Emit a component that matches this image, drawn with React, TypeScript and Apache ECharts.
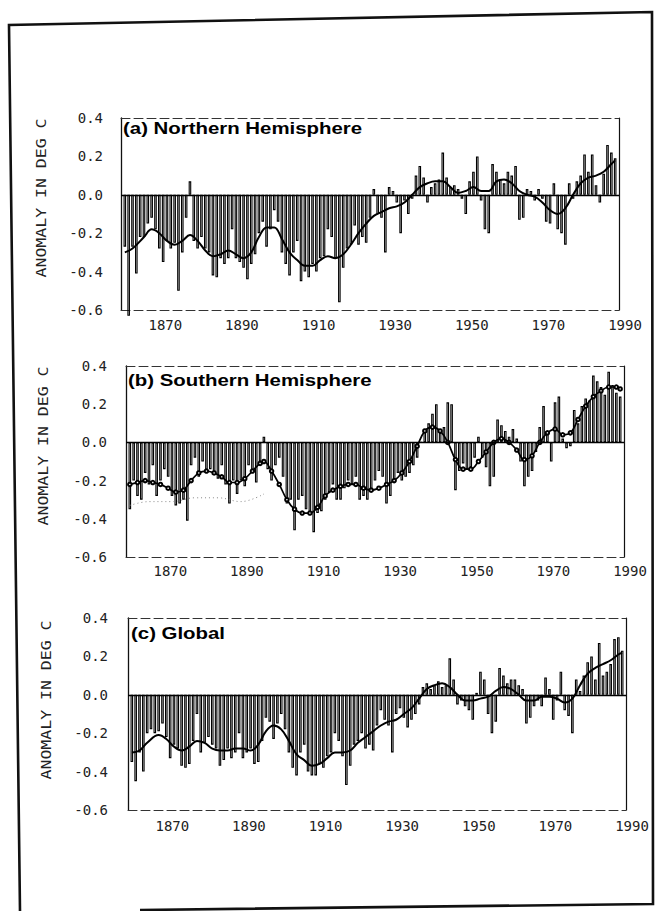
import React, { useEffect, useRef } from "react";
import * as echarts from "echarts";

const FIRST_YEAR = 1861;
const X_MIN = 1860;
const X_MAX = 1990;
const X_TICK_LABELS = [1870, 1890, 1910, 1930, 1950, 1970, 1990];
const Y_MIN = -0.6;
const Y_MAX = 0.4;
const Y_STEP = 0.2;
const PANEL_TITLES = ["(a) Northern Hemisphere", "(b) Southern Hemisphere", "(c) Global"];
const Y_AXIS_TITLE = "ANOMALY IN DEG C";

// annual anomalies 1861..1989
const NH_ANOMALY = [
  -0.27, -0.63, -0.27, -0.41, -0.22, -0.22, -0.15, -0.12, -0.18, -0.28,
  -0.35, -0.24, -0.28, -0.25, -0.50, -0.30, -0.12, 0.07, -0.24, -0.28,
  -0.22, -0.28, -0.30, -0.42, -0.43, -0.33, -0.36, -0.33, -0.18, -0.33,
  -0.35, -0.38, -0.44, -0.36, -0.31, -0.20, -0.14, -0.27, -0.18, -0.08,
  -0.14, -0.30, -0.36, -0.42, -0.30, -0.24, -0.45, -0.40, -0.43, -0.36,
  -0.40, -0.33, -0.32, -0.18, -0.22, -0.33, -0.56, -0.38, -0.28, -0.26,
  -0.16, -0.26, -0.22, -0.25, -0.12, 0.03, -0.10, -0.12, -0.30, 0.04,
  0.02, -0.04, -0.20, -0.03, -0.10, -0.02, 0.10, 0.15, 0.09, -0.04,
  0.04, 0.06, 0.08, 0.22, 0.09, 0.04, 0.05, 0.03, -0.02, -0.10,
  0.07, 0.12, 0.20, -0.03, -0.18, -0.20, 0.16, 0.12, 0.08, 0.06,
  0.12, 0.10, 0.15, -0.13, -0.12, 0.03, 0.02, -0.03, 0.03, -0.02,
  -0.14, -0.15, 0.06, -0.18, -0.20, -0.26, 0.06, -0.02, 0.07, 0.10,
  0.21, 0.12, 0.21, 0.05, -0.04, 0.11, 0.26, 0.22, 0.19,
];

const SH_ANOMALY = [
  -0.35, -0.20, -0.28, -0.30, -0.16, -0.22, -0.12, -0.28, -0.20, -0.14,
  -0.18, -0.28, -0.33, -0.32, -0.30, -0.41, -0.12, -0.08, -0.18, -0.10,
  -0.15, -0.14, -0.16, -0.19, -0.12, -0.22, -0.32, -0.20, -0.27, -0.20,
  -0.23, -0.12, -0.15, -0.21, -0.10, 0.03, -0.14, -0.20, -0.12, -0.08,
  -0.18, -0.32, -0.30, -0.46, -0.30, -0.28, -0.35, -0.38, -0.47, -0.37,
  -0.36, -0.30, -0.26, -0.22, -0.30, -0.30, -0.24, -0.20, -0.22, -0.18,
  -0.30, -0.28, -0.30, -0.26, -0.20, -0.15, -0.18, -0.32, -0.28, -0.20,
  -0.16, -0.20, -0.18, -0.16, -0.12, -0.08, 0.00, 0.06, 0.10, 0.15,
  0.20, 0.05, 0.08, 0.21, 0.20, -0.25, -0.15, -0.11, -0.14, -0.13,
  -0.08, 0.03, -0.08, -0.13, -0.23, -0.18, 0.12, 0.09, 0.06, 0.03,
  0.07, 0.02, -0.10, -0.23, -0.18, -0.15, -0.05, 0.08, 0.19, 0.05,
  -0.10, 0.21, 0.24, 0.02, -0.03, -0.02, 0.17, 0.10, 0.19, 0.23,
  0.22, 0.35, 0.32, 0.29, 0.25, 0.37, 0.30, 0.26, 0.24,
];

const GLOBAL_ANOMALY = [
  -0.35, -0.45, -0.30, -0.40, -0.20, -0.18, -0.20, -0.19, -0.15, -0.22,
  -0.33, -0.26, -0.28, -0.37, -0.38, -0.36, -0.24, -0.10, -0.30, -0.25,
  -0.22, -0.26, -0.28, -0.37, -0.34, -0.28, -0.33, -0.30, -0.20, -0.33,
  -0.30, -0.28, -0.36, -0.35, -0.24, -0.12, -0.14, -0.23, -0.15, -0.10,
  -0.18, -0.30, -0.38, -0.42, -0.30, -0.26, -0.40, -0.42, -0.42, -0.36,
  -0.38, -0.32, -0.30, -0.20, -0.24, -0.32, -0.47, -0.37, -0.26, -0.24,
  -0.20, -0.28, -0.26, -0.29, -0.16, -0.08, -0.13, -0.16, -0.30, -0.10,
  -0.07, -0.12, -0.17, -0.13, -0.10, -0.05, 0.04, 0.06, 0.03, 0.05,
  0.07, 0.04, 0.05, 0.19, 0.08, -0.05, -0.03, -0.06, -0.08, -0.13,
  0.01, 0.12, 0.08, -0.10, -0.20, -0.14, 0.14, 0.10, 0.06, 0.08,
  0.08, 0.05, 0.03, -0.15, -0.12, -0.06, -0.03, -0.06, 0.09, 0.03,
  -0.13, -0.03, 0.12, -0.08, -0.11, -0.20, 0.08, 0.02, 0.10, 0.17,
  0.20, 0.08, 0.27, 0.10, 0.12, 0.16, 0.29, 0.30, 0.23,
];

// smoothed curves [year, value]
const NH_SMOOTH = [
  [1861, -0.30], [1863, -0.28], [1866, -0.22], [1868, -0.18], [1870, -0.20], [1872, -0.24],
  [1874, -0.26], [1876, -0.24], [1878, -0.21], [1880, -0.24], [1882, -0.29], [1884, -0.32],
  [1886, -0.31], [1888, -0.29], [1890, -0.31], [1892, -0.33], [1894, -0.30], [1896, -0.22],
  [1898, -0.17], [1900, -0.17], [1902, -0.23], [1904, -0.30], [1906, -0.34], [1908, -0.37],
  [1910, -0.37], [1912, -0.34], [1914, -0.32], [1916, -0.33], [1918, -0.31], [1920, -0.26],
  [1922, -0.20], [1924, -0.15], [1926, -0.11], [1928, -0.09], [1930, -0.07], [1932, -0.06],
  [1934, -0.04], [1936, 0.00], [1938, 0.04], [1940, 0.06], [1942, 0.07], [1944, 0.07],
  [1946, 0.04], [1948, 0.01], [1950, 0.02], [1952, 0.04], [1954, 0.02], [1956, 0.02],
  [1958, 0.07], [1960, 0.08], [1962, 0.06], [1964, 0.02], [1966, 0.00], [1968, -0.01],
  [1970, -0.04], [1972, -0.08], [1974, -0.10], [1976, -0.07], [1978, 0.00], [1980, 0.06],
  [1982, 0.09], [1984, 0.10], [1986, 0.12], [1988, 0.16], [1989, 0.18],
];

const SH_SMOOTH = [
  [1861, -0.22], [1863, -0.21], [1865, -0.20], [1867, -0.21], [1869, -0.22], [1871, -0.24],
  [1873, -0.26], [1875, -0.25], [1877, -0.20], [1879, -0.16], [1881, -0.15], [1883, -0.16],
  [1885, -0.18], [1887, -0.21], [1889, -0.21], [1891, -0.19], [1893, -0.15], [1895, -0.11],
  [1896, -0.10], [1898, -0.15], [1900, -0.22], [1902, -0.30], [1904, -0.35], [1906, -0.37],
  [1908, -0.37], [1910, -0.34], [1912, -0.28], [1914, -0.25], [1916, -0.23], [1918, -0.22],
  [1920, -0.22], [1922, -0.24], [1924, -0.25], [1926, -0.24], [1928, -0.22], [1930, -0.20],
  [1932, -0.16], [1934, -0.10], [1936, -0.02], [1938, 0.06], [1940, 0.08], [1942, 0.06],
  [1944, 0.00], [1946, -0.09], [1948, -0.14], [1950, -0.14], [1952, -0.10], [1954, -0.05],
  [1956, 0.00], [1958, 0.02], [1960, 0.00], [1962, -0.04], [1964, -0.09], [1966, -0.07],
  [1968, 0.00], [1970, 0.05], [1972, 0.07], [1974, 0.04], [1976, 0.05], [1978, 0.12],
  [1980, 0.19], [1982, 0.24], [1984, 0.27], [1986, 0.29], [1988, 0.29], [1989, 0.28],
];

const SH_DOTTED = [
  [1861, -0.33], [1866, -0.31], [1872, -0.31], [1878, -0.29], [1884, -0.29], [1890, -0.31], [1896, -0.27],
];

const GLOBAL_SMOOTH = [
  [1861, -0.30], [1863, -0.29], [1865, -0.25], [1868, -0.21], [1870, -0.23], [1872, -0.27],
  [1874, -0.29], [1876, -0.27], [1878, -0.24], [1880, -0.25], [1882, -0.28], [1884, -0.29],
  [1886, -0.29], [1888, -0.28], [1890, -0.28], [1892, -0.29], [1894, -0.26], [1896, -0.19],
  [1898, -0.16], [1900, -0.18], [1902, -0.24], [1904, -0.31], [1906, -0.34], [1908, -0.37],
  [1910, -0.36], [1912, -0.33], [1914, -0.30], [1916, -0.30], [1918, -0.29], [1920, -0.25],
  [1922, -0.22], [1924, -0.19], [1926, -0.16], [1928, -0.14], [1930, -0.13], [1932, -0.10],
  [1934, -0.07], [1936, -0.02], [1938, 0.03], [1940, 0.05], [1942, 0.06], [1944, 0.04],
  [1946, 0.00], [1948, -0.03], [1950, -0.03], [1952, -0.02], [1954, -0.01], [1956, 0.02],
  [1958, 0.04], [1960, 0.03], [1962, 0.00], [1964, -0.03], [1966, -0.03], [1968, -0.01],
  [1970, -0.01], [1972, -0.02], [1974, -0.04], [1976, -0.02], [1978, 0.05], [1980, 0.11],
  [1982, 0.14], [1984, 0.16], [1986, 0.18], [1988, 0.21], [1989, 0.22],
];

const MONO = '"DejaVu Sans Mono", monospace';

export default function App() {
  const ref = useRef<HTMLDivElement>(null);

  useEffect(() => {
    if (!ref.current) return;
    const chart = echarts.init(ref.current, null, { renderer: "svg" });

    const panels = [
      { left: 121, top: 118, height: 192, xMargin: 8, yMargin: 18, bars: NH_ANOMALY, smooth: NH_SMOOTH, titleX: 123, titleY: 128, nameX: 41, nameY: 198, symbols: false },
      { left: 126, top: 366, height: 191, xMargin: 7, yMargin: 19, bars: SH_ANOMALY, smooth: SH_SMOOTH, titleX: 128, titleY: 380, nameX: 43, nameY: 446, symbols: true },
      { left: 128, top: 618, height: 192, xMargin: 9, yMargin: 20, bars: GLOBAL_ANOMALY, smooth: GLOBAL_SMOOTH, titleX: 131, titleY: 633, nameX: 46, nameY: 700, symbols: false },
    ];
    const width = 498;

    const grid: any[] = [];
    const xAxis: any[] = [];
    const yAxis: any[] = [];
    const series: any[] = [];
    const graphic: any[] = [];

    panels.forEach((p, i) => {
      grid.push({ left: p.left, top: p.top, width, height: p.height, show: false });
      const dashed = { show: true, lineStyle: { color: "#333", width: 1, type: [9, 4] } };
      xAxis.push({
        type: "value", gridIndex: i, position: "bottom", min: X_MIN, max: X_MAX,
        axisLine: { ...dashed, onZero: false },
        axisTick: { show: false }, splitLine: { show: false },
        axisLabel: {
          customValues: X_TICK_LABELS, formatter: (v: number) => String(v),
          margin: p.xMargin, padding: [0, 0, 0, 12],
          fontFamily: MONO, fontSize: 14, color: "#222",
        },
      });
      xAxis.push({
        type: "value", gridIndex: i, position: "top", min: X_MIN, max: X_MAX,
        axisLine: { ...dashed, onZero: false },
        axisTick: { show: false }, splitLine: { show: false }, axisLabel: { show: false },
      });
      yAxis.push({
        type: "value", gridIndex: i, position: "left", min: Y_MIN, max: Y_MAX, interval: Y_STEP,
        axisLine: { show: true, lineStyle: { color: "#111", width: 1.3 } },
        axisTick: { show: false }, splitLine: { show: false },
        axisLabel: {
          formatter: (v: number) => v.toFixed(1), margin: p.yMargin,
          fontFamily: MONO, fontSize: 14, color: "#222",
        },
      });
      yAxis.push({
        type: "value", gridIndex: i, position: "right", min: Y_MIN, max: Y_MAX, interval: Y_STEP,
        axisLine: { show: true, lineStyle: { color: "#111", width: 1.2 } },
        axisTick: { show: false }, splitLine: { show: false }, axisLabel: { show: false },
      });

      series.push({
        type: "bar", xAxisIndex: 2 * i, yAxisIndex: 2 * i,
        data: p.bars.map((v, k) => [FIRST_YEAR + k, v]),
        barWidth: 2.6, clip: false,
        itemStyle: { color: "rgba(255,255,255,0)", borderColor: "#000", borderWidth: 1.1 },
        markLine: {
          silent: true, symbol: "none", label: { show: false },
          lineStyle: { color: "#000", width: 1.3, type: "solid" },
          data: [{ yAxis: 0 }],
        },
        z: 2,
      });
      if (i === 1) {
        series.push({
          type: "line", xAxisIndex: 2 * i, yAxisIndex: 2 * i, data: SH_DOTTED,
          smooth: 0.4, symbol: "none",
          lineStyle: { color: "#888", width: 1, type: [1, 3] }, z: 3,
        });
      }
      series.push({
        type: "line", xAxisIndex: 2 * i, yAxisIndex: 2 * i, data: p.smooth,
        smooth: 0.4,
        symbol: p.symbols ? "emptyCircle" : "none", symbolSize: 3.5, showSymbol: p.symbols,
        itemStyle: { color: "#000", borderColor: "#000", borderWidth: 1 },
        lineStyle: { color: "#000", width: p.symbols ? 1.7 : 2 }, z: 4,
      });

      graphic.push({
        type: "text", x: p.titleX, y: p.titleY, scaleX: 1.2, z: 10,
        style: {
          text: PANEL_TITLES[i], fill: "#000", align: "left", verticalAlign: "middle",
          font: 'bold 17px "Liberation Sans", Arial, sans-serif',
        },
      });
      graphic.push({
        type: "text", x: p.nameX, y: p.nameY, rotation: Math.PI / 2, scaleX: 1.18, z: 10,
        style: {
          text: Y_AXIS_TITLE, fill: "#222", align: "center", verticalAlign: "middle",
          font: `14px ${MONO}`,
        },
      });
    });

    graphic.push({
      type: "polyline", z: 20,
      shape: { points: [[20, 911], [9, 25], [652, 12], [653, 904], [140, 910]] },
      style: { stroke: "#111", lineWidth: 2.6, fill: null },
    });

    chart.setOption({
      animation: false,
      backgroundColor: "#fff",
      grid, xAxis, yAxis, series, graphic,
    });

    return () => chart.dispose();
  }, []);

  return (
    <div
      ref={ref}
      style={{ position: "absolute", left: 0, top: 0, width: 657, height: 911, background: "#fff" }}
    />
  );
}
